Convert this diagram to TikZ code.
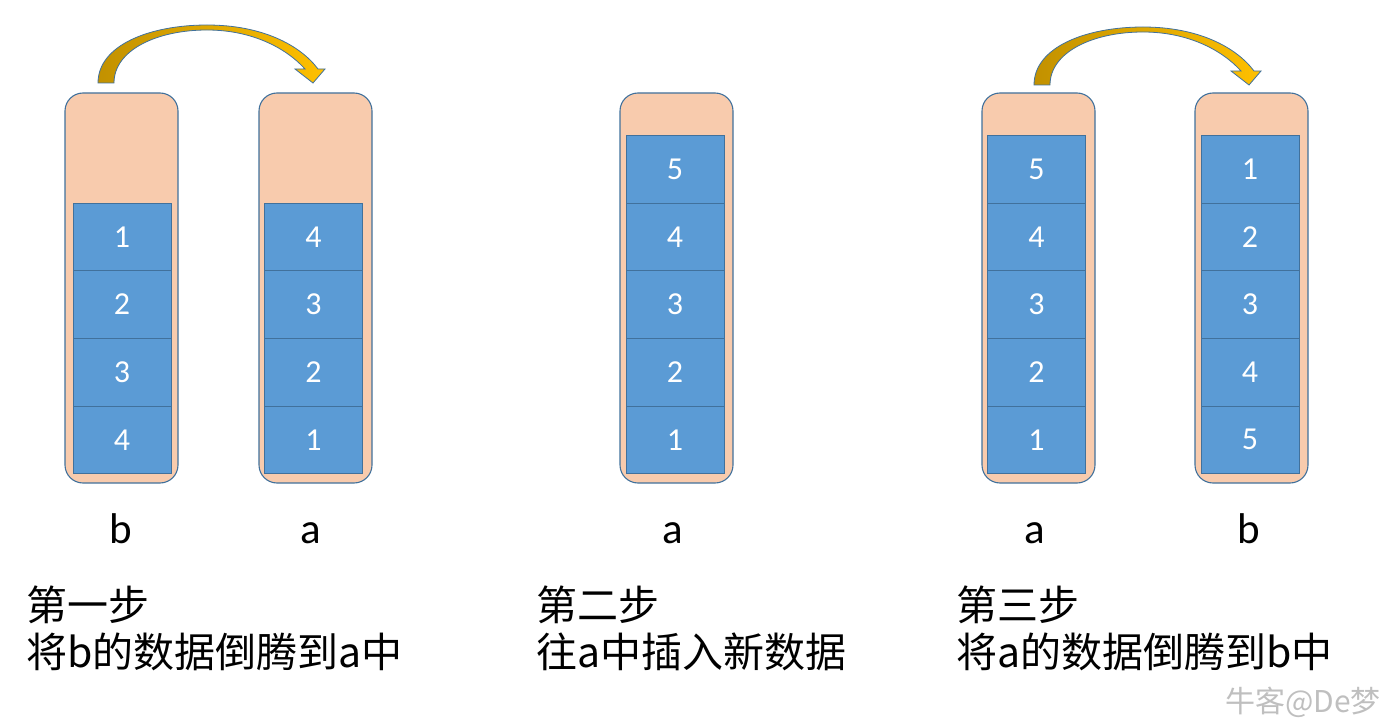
\documentclass[tikz,border=0pt]{standalone}
\usepackage{fontspec}
\setmainfont{Carlito}
\newfontfamily\cjk{Noto Sans CJK SC}
\definecolor{peach}{HTML}{F8CBAD}
\definecolor{edgeblue}{HTML}{41719C}
\definecolor{cellblue}{HTML}{5B9BD5}
\definecolor{golddark}{HTML}{C29100}
\definecolor{goldlight}{HTML}{FFC000}
\tikzset{
  tube/.style={draw=edgeblue, fill=peach, line width=1.1pt, rounded corners=18pt,
    minimum width=113pt, minimum height=390pt, inner sep=0pt, outer sep=0pt},
  cell/.style={draw=edgeblue, fill=cellblue, line width=1pt, minimum width=98pt,
    minimum height=67.6pt, inner sep=0pt, outer sep=0pt, text=white,
    font=\fontsize{32}{36}\selectfont},
  lbl/.style={anchor=base, inner sep=0pt, font=\fontsize{43}{48}\selectfont},
  captext/.style={anchor=base west, inner sep=0pt, font=\cjk\fontsize{41}{48}\selectfont},
  goldarrow/.style={draw=edgeblue, line width=0.8pt, left color=golddark, right color=goldlight}
}
\begin{document}
\begin{tikzpicture}[x=1pt,y=-1pt]
\useasboundingbox (0,0) rectangle (1399,727);
% containers
\node[tube] (tb1) at (121.5,288) {};
\node[tube] (ta1) at (315.5,288) {};
\node[tube] (ta2) at (676.5,288) {};
\node[tube] (ta3) at (1038.5,288) {};
\node[tube] (tb3) at (1251.5,288) {};
% step 1: b
\node[cell] (b11) at (122,237) {1};
\node[cell] (b12) at (122,304.6) {2};
\node[cell] (b13) at (122,372.2) {3};
\node[cell] (b14) at (122,439.8) {4};
% step 1: a
\node[cell] (a11) at (313.5,237) {4};
\node[cell] (a12) at (313.5,304.6) {3};
\node[cell] (a13) at (313.5,372.2) {2};
\node[cell] (a14) at (313.5,439.8) {1};
% step 2: a
\node[cell] (a21) at (675,169.4) {5};
\node[cell] (a22) at (675,237) {4};
\node[cell] (a23) at (675,304.6) {3};
\node[cell] (a24) at (675,372.2) {2};
\node[cell] (a25) at (675,439.8) {1};
% step 3: a
\node[cell] (a31) at (1036.5,169.4) {5};
\node[cell] (a32) at (1036.5,237) {4};
\node[cell] (a33) at (1036.5,304.6) {3};
\node[cell] (a34) at (1036.5,372.2) {2};
\node[cell] (a35) at (1036.5,439.8) {1};
% step 3: b
\node[cell] (b31) at (1250,169.4) {1};
\node[cell] (b32) at (1250,237) {2};
\node[cell] (b33) at (1250,304.6) {3};
\node[cell] (b34) at (1250,372.2) {4};
\node[cell] (b35) at (1250,439.8) {5};
% labels
\node[lbl] (lb1) at (121,543) {b};
\node[lbl] (la1) at (311,543) {a};
\node[lbl] (la2) at (673,543) {a};
\node[lbl] (la3) at (1035,543) {a};
\node[lbl] (lb3) at (1249,543) {b};
% captions
\node[captext] (c1a) at (26,620) {第一步};
\node[captext] (c1b) at (26,667) {将b的数据倒腾到a中};
\node[captext] (c2a) at (536,620) {第二步};
\node[captext] (c2b) at (536,667) {往a中插入新数据};
\node[captext] (c3a) at (956,620) {第三步};
\node[captext] (c3b) at (956,667) {将a的数据倒腾到b中};
% curved arrows
\path[goldarrow] (98,83) .. controls (98,45) and (150,25) .. (207,25)
  .. controls (262,25) and (300,45) .. (318,69) -- (325,69) -- (313,83) -- (295,69) -- (305,69)
  .. controls (286,48) and (252,30) .. (207,30)
  .. controls (157,30) and (114,50) .. (114,83) -- cycle;
\begin{scope}[shift={(936,2)}]
\path[goldarrow] (98,83) .. controls (98,45) and (150,25) .. (207,25)
  .. controls (262,25) and (300,45) .. (318,69) -- (325,69) -- (313,83) -- (295,69) -- (305,69)
  .. controls (286,48) and (252,30) .. (207,30)
  .. controls (157,30) and (114,50) .. (114,83) -- cycle;
\end{scope}
% watermark
\node[anchor=base west, inner sep=0pt, text=black!25, font=\cjk\fontsize{30}{34}\selectfont] (wm) at (1225,712) {牛客@De梦};
\end{tikzpicture}
\end{document}
